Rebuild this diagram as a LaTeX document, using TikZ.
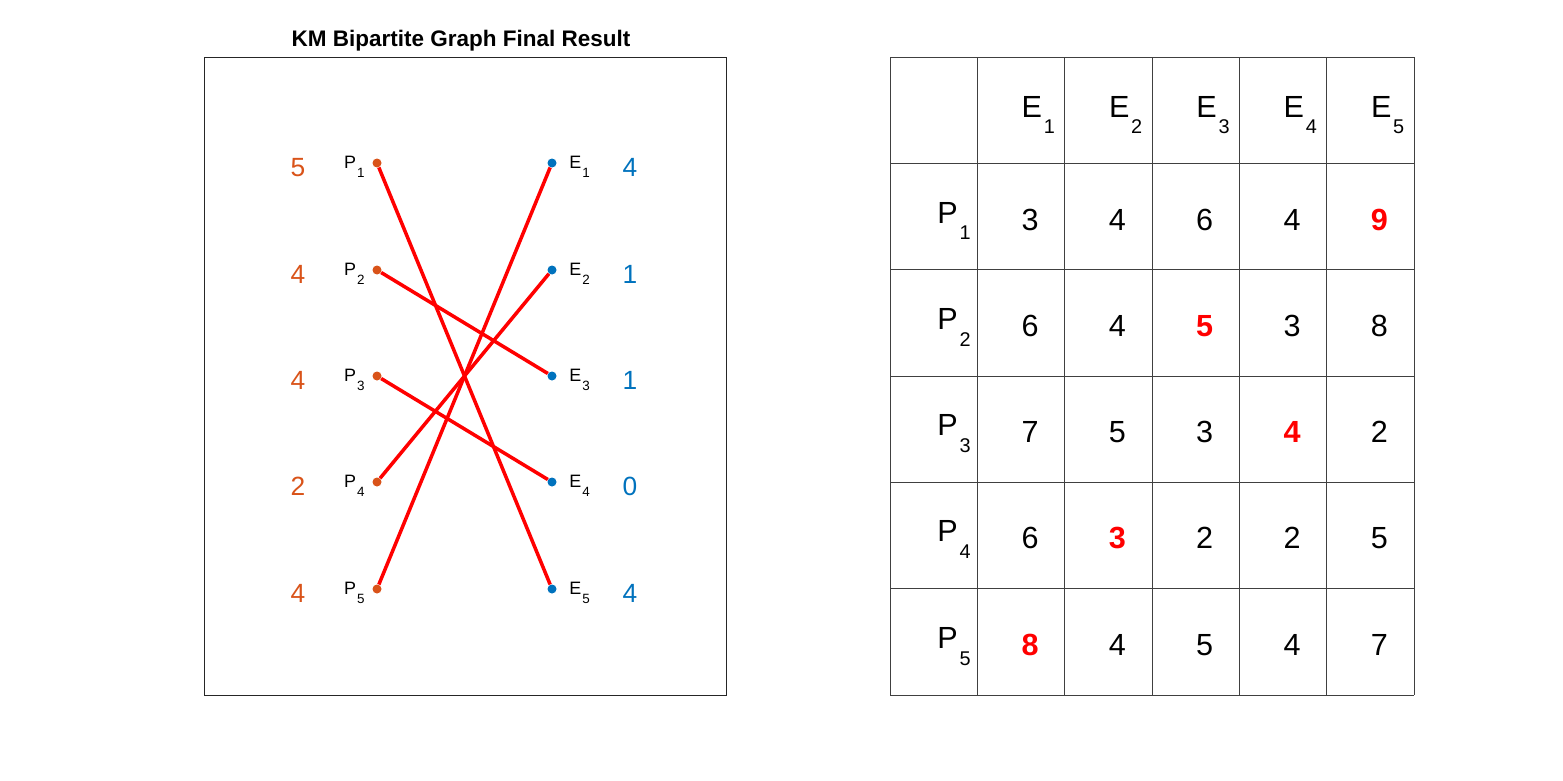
\documentclass[tikz,border=0pt]{standalone}
\usepackage{fontspec}
\setmainfont{Liberation Sans}
\usetikzlibrary{positioning}
\usetikzlibrary{calc}

\definecolor{pcol}{HTML}{D95319}
\definecolor{ecol}{HTML}{0072BD}
\definecolor{framecol}{HTML}{262626}

\newcommand{\lowidx}[3][0.75]{#2\kern0.06em\raisebox{-0.55em}{\scalebox{#1}{#3}}}
\newcommand{\hit}[1]{\textcolor{red}{\bfseries #1}}

\begin{document}
\begin{tikzpicture}[x=0.02cm, y=-0.02cm,
    pdot/.style={circle, fill=pcol, inner sep=0pt, minimum size=0.18cm},
    edot/.style={circle, fill=ecol, inner sep=0pt, minimum size=0.18cm},
    vname/.style={inner sep=0pt, font=\fontsize{10.2}{12}\selectfont},
    pval/.style={inner sep=0pt, anchor=base, text=pcol, font=\fontsize{15}{18}\selectfont},
    evalue/.style={inner sep=0pt, anchor=base, text=ecol, font=\fontsize{15}{18}\selectfont},
    match/.style={red, line width=2pt},
    head/.style={inner sep=0pt, anchor=base west, font=\fontsize{17.4}{20}\selectfont},
    num/.style={inner sep=0pt, anchor=base, font=\fontsize{17.4}{20}\selectfont},
    cellline/.style={draw=black!75, line width=0.5pt}]

    \useasboundingbox (0,0) rectangle (1563,781);

    % graph
    \draw[framecol, line width=0.5pt] (204,57) rectangle (726,695);
    \node[inner sep=0pt, anchor=base, font=\bfseries\fontsize{12.8}{15}\selectfont] (title) at (461,47) {KM Bipartite Graph Final Result};

    % p
    \node[pdot] (p1) at (377,163) {};
    \node[pdot] (p2) at (377,270) {};
    \node[pdot] (p3) at (377,376) {};
    \node[pdot] (p4) at (377,482) {};
    \node[pdot] (p5) at (377,589) {};

    % e
    \node[edot] (e1) at (552,163) {};
    \node[edot] (e2) at (552,270) {};
    \node[edot] (e3) at (552,376) {};
    \node[edot] (e4) at (552,482) {};
    \node[edot] (e5) at (552,589) {};

    \node[vname, anchor=base east] (lp1) at ($(p1)+(-12,5)$) {\lowidx{P}{1}};
    \node[vname, anchor=base east] (lp2) at ($(p2)+(-12,5)$) {\lowidx{P}{2}};
    \node[vname, anchor=base east] (lp3) at ($(p3)+(-12,5)$) {\lowidx{P}{3}};
    \node[vname, anchor=base east] (lp4) at ($(p4)+(-12,5)$) {\lowidx{P}{4}};
    \node[vname, anchor=base east] (lp5) at ($(p5)+(-12,5)$) {\lowidx{P}{5}};

    \node[vname, anchor=base west] (le1) at ($(e1)+(17,5)$) {\lowidx{E}{1}};
    \node[vname, anchor=base west] (le2) at ($(e2)+(17,5)$) {\lowidx{E}{2}};
    \node[vname, anchor=base west] (le3) at ($(e3)+(17,5)$) {\lowidx{E}{3}};
    \node[vname, anchor=base west] (le4) at ($(e4)+(17,5)$) {\lowidx{E}{4}};
    \node[vname, anchor=base west] (le5) at ($(e5)+(17,5)$) {\lowidx{E}{5}};

    % labels
    \node[pval] (wp1) at ($(p1)+(-79,13)$) {5};
    \node[pval] (wp2) at ($(p2)+(-79,13)$) {4};
    \node[pval] (wp3) at ($(p3)+(-79,13)$) {4};
    \node[pval] (wp4) at ($(p4)+(-79,13)$) {2};
    \node[pval] (wp5) at ($(p5)+(-79,13)$) {4};

    \node[evalue] (we1) at ($(e1)+(78,13)$) {4};
    \node[evalue] (we2) at ($(e2)+(78,13)$) {1};
    \node[evalue] (we3) at ($(e3)+(78,13)$) {1};
    \node[evalue] (we4) at ($(e4)+(78,13)$) {0};
    \node[evalue] (we5) at ($(e5)+(78,13)$) {4};

    \draw[match] (p1) -- (e5);
    \draw[match] (p2) -- (e3);
    \draw[match] (p3) -- (e4);
    \draw[match] (p4) -- (e2);
    \draw[match] (p5) -- (e1);

    % table
    \foreach \k in {0,...,6} {
        \draw[cellline] (890+87.33*\k,57) -- (890+87.33*\k,695);
        \draw[cellline] (890,57+106.33*\k) -- (1414,57+106.33*\k);
    }
    \foreach \j in {1,...,5}
        \node[head] (h\j) at (934+87.33*\j,117) {\lowidx[0.65]{E}{\j}};

    \foreach \i/\va/\vb/\vc/\vd/\ve in {1/3/4/6/4/\hit{9}, 2/6/4/\hit{5}/3/8, 3/7/5/3/\hit{4}/2, 4/6/\hit{3}/2/2/5, 5/\hit{8}/4/5/4/7} {
        \node[head] (r\i) at (937,116.67+106.33*\i) {\lowidx[0.65]{P}{\i}};
        \node[num] (c\i-1) at (1030,123.67+106.33*\i) {\va};
        \node[num] (c\i-2) at (1117.33,123.67+106.33*\i) {\vb};
        \node[num] (c\i-3) at (1204.67,123.67+106.33*\i) {\vc};
        \node[num] (c\i-4) at (1292,123.67+106.33*\i) {\vd};
        \node[num] (c\i-5) at (1379.33,123.67+106.33*\i) {\ve};
    }
\end{tikzpicture}
\end{document}
